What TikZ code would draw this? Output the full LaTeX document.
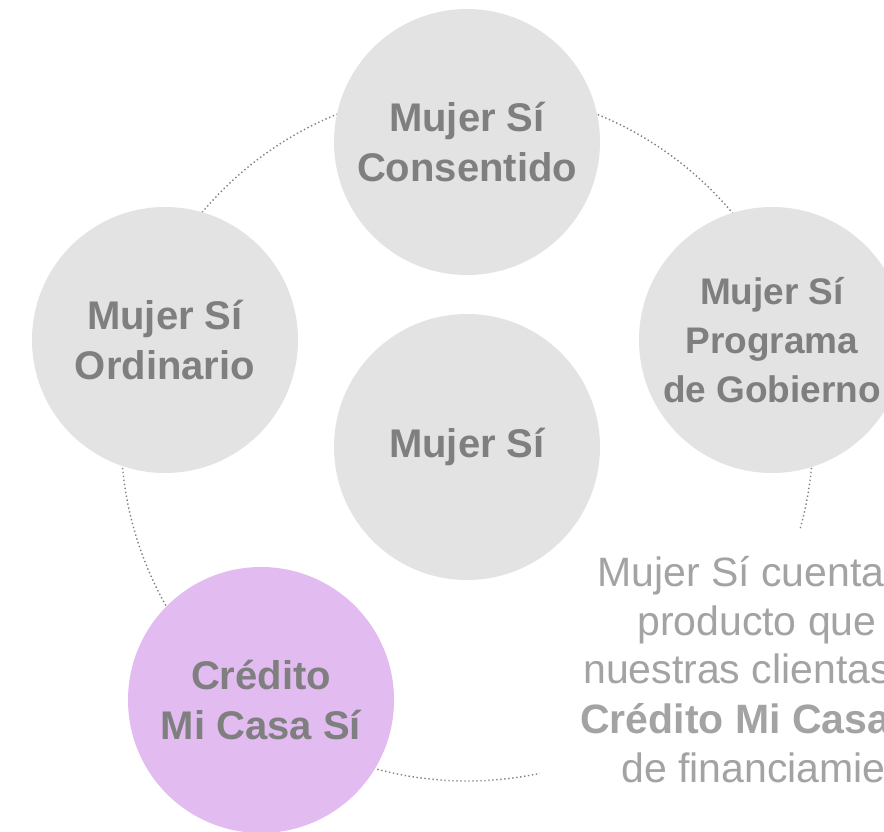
\documentclass[tikz,border=0pt]{standalone}
\usepackage{fontspec}
\setmainfont{Liberation Sans}
\definecolor{bubblegray}{HTML}{E3E3E3}
\definecolor{lila}{HTML}{E2BBF1}
\definecolor{bubbletext}{HTML}{7F7F7F}
\definecolor{bodytext}{HTML}{A3A3A3}
\definecolor{ring}{HTML}{808080}
\begin{document}
\begin{tikzpicture}[x=1pt,y=-1pt,
	bubble/.style={circle,fill=bubblegray,minimum size=266pt,inner sep=0pt,align=center,
		text=bubbletext,font=\fontsize{40}{50}\selectfont\bfseries},
	textline/.style={anchor=base west,inner sep=0pt,text=bodytext,font=\fontsize{41}{49}\selectfont}]
	\useasboundingbox (0,0) rectangle (884,832);
	\clip (0,0) rectangle (884,832);
	
	\draw[ring,line width=1.4pt,dash pattern=on 1.4pt off 2.6pt] (467,435) circle[radius=346pt];
	\fill[white] (540,530) rectangle (884,832);
	
	\node[bubble] (consentido) at (467,142) {Mujer Sí\\Consentido};
	\node[bubble] (ordinario) at (165,340) {Mujer Sí\\Ordinario};
	\node[bubble,font=\fontsize{37}{49}\selectfont\bfseries] (gobierno) at (772,340) {Mujer Sí\\Programa\\de Gobierno};
	\node[bubble] (mujersi) at (467,447) {Mujer Sí};
	\node[bubble,fill=lila] (micasa) at (261,700) {Crédito\\Mi Casa Sí};
	
	\node[textline] (desc1) at (597,586) {Mujer Sí cuenta};
	\node[textline] (desc2) at (637,635) {producto que};
	\node[textline] (desc3) at (583,683) {nuestras clientas};
	\node[textline,font=\fontsize{41}{49}\selectfont\bfseries] (desc4) at (580,733) {Crédito Mi Casa};
	\node[textline] (desc5) at (621,782) {de financiamie};
\end{tikzpicture}
\end{document}
